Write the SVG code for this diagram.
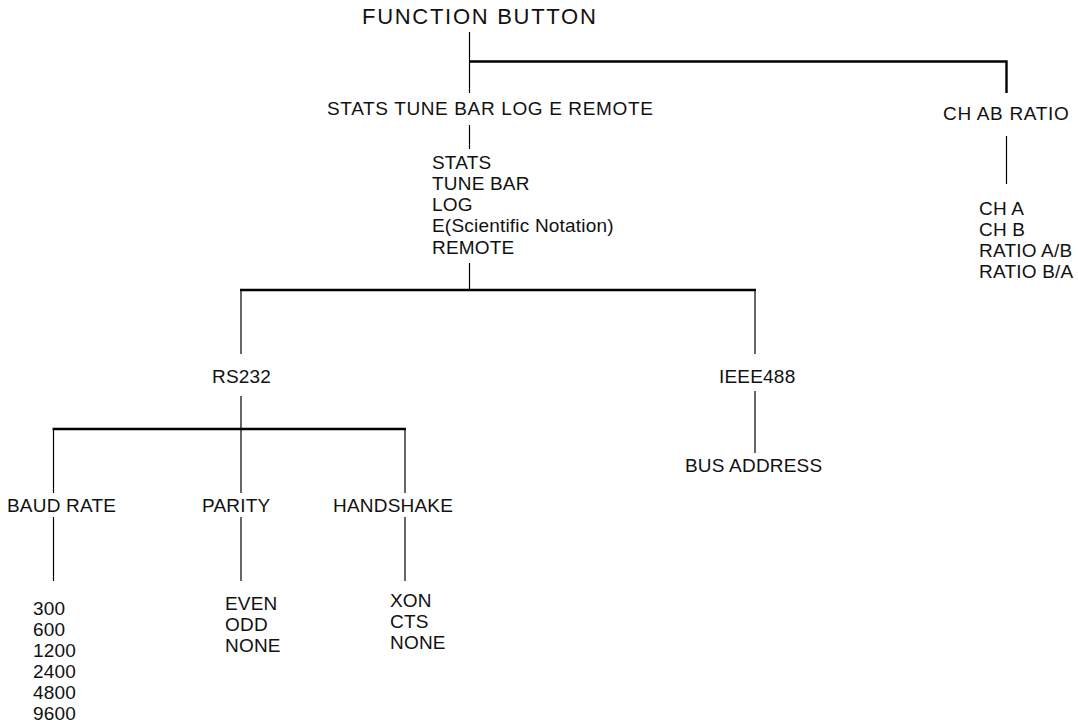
<svg xmlns="http://www.w3.org/2000/svg" width="1078" height="724" viewBox="0 0 1078 724">
<style>
text{font-family:"Liberation Sans",Arial,sans-serif;font-size:19px;fill:#111;letter-spacing:0.2px}
.title{font-size:22px}
.bus{stroke:#000;stroke-width:2.4;fill:none}
.ln{stroke:#000;stroke-width:1.2;fill:none}
</style>
<rect width="1078" height="724" fill="#fff"/>
<g id="connectors">
<line class="ln" x1="469.5" y1="32" x2="469.5" y2="93"/>
<polyline class="bus" points="469.5,61.5 1006.5,61.5 1006.5,93"/>
<line class="ln" x1="469.5" y1="125" x2="469.5" y2="149"/>
<line class="ln" x1="469.5" y1="263" x2="469.5" y2="290"/>
<line class="bus" x1="240" y1="290" x2="756" y2="290"/>
<line class="ln" x1="241" y1="290" x2="241" y2="354"/>
<line class="ln" x1="755" y1="290" x2="755" y2="354"/>
<line class="ln" x1="1006.5" y1="136" x2="1006.5" y2="184"/>
<line class="ln" x1="241" y1="396" x2="241" y2="493"/>
<line class="bus" x1="52.5" y1="429" x2="406" y2="429"/>
<line class="ln" x1="53.5" y1="429" x2="53.5" y2="493"/>
<line class="ln" x1="405" y1="429" x2="405" y2="493"/>
<line class="ln" x1="755" y1="391" x2="755" y2="453"/>
<line class="ln" x1="53.5" y1="517" x2="53.5" y2="581"/>
<line class="ln" x1="241" y1="517" x2="241" y2="581"/>
<line class="ln" x1="405" y1="517" x2="405" y2="581"/>
</g>
<g id="function-button"><text class="title" x="362" y="24" textLength="234">FUNCTION BUTTON</text></g>
<g id="stats-group"><text x="327" y="115" textLength="326">STATS TUNE BAR LOG E REMOTE</text></g>
<g id="stats-list">
<text x="432" y="169">STATS</text>
<text x="432" y="190">TUNE BAR</text>
<text x="432" y="211">LOG</text>
<text x="432" y="232">E(Scientific Notation)</text>
<text x="432" y="254">REMOTE</text>
</g>
<g id="ch-ab-ratio"><text x="943" y="120" textLength="126">CH AB RATIO</text></g>
<g id="ch-list">
<text x="979" y="215">CH A</text>
<text x="979" y="236">CH B</text>
<text x="979" y="257">RATIO A/B</text>
<text x="979" y="278">RATIO B/A</text>
</g>
<g id="rs232"><text x="212" y="383">RS232</text></g>
<g id="ieee488"><text x="719" y="383">IEEE488</text></g>
<g id="bus-address"><text x="685" y="472">BUS ADDRESS</text></g>
<g id="baud-rate"><text x="7" y="512">BAUD RATE</text></g>
<g id="parity"><text x="202" y="512">PARITY</text></g>
<g id="handshake"><text x="333" y="512">HANDSHAKE</text></g>
<g id="baud-values">
<text x="33" y="615">300</text>
<text x="33" y="636">600</text>
<text x="33" y="657">1200</text>
<text x="33" y="678">2400</text>
<text x="33" y="699">4800</text>
<text x="33" y="720">9600</text>
</g>
<g id="parity-values">
<text x="225" y="610">EVEN</text>
<text x="225" y="631">ODD</text>
<text x="225" y="652">NONE</text>
</g>
<g id="handshake-values">
<text x="390" y="607">XON</text>
<text x="390" y="628">CTS</text>
<text x="390" y="649">NONE</text>
</g>
</svg>
